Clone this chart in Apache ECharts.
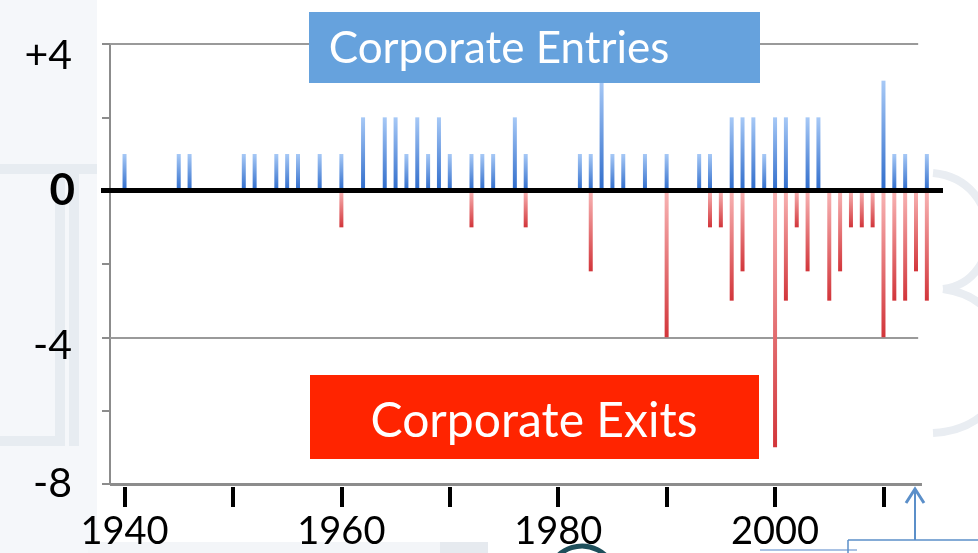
<!DOCTYPE html>
<html>
<head>
<meta charset="utf-8">
<script src="https://cdn.jsdelivr.net/npm/echarts@6/dist/echarts.min.js"></script>
<style>
html,body{margin:0;padding:0;background:#ffffff;}
#chart{width:978px;height:553px;}
</style>
</head>
<body>
<div id="chart"></div>
<script>
// ---- data ----
const entryYears  = [1940,1945,1946,1951,1952,1954,1955,1956,1958,1960,1962,1964,1965,1966,1967,1968,1969,1970,1972,1973,1974,1976,1977,1982,1983,1984,1985,1986,1988,1990,1993,1994,1996,1997,1998,1999,2000,2001,2003,2004,2010,2011,2012,2014];
const entryValues = [1,1,1,1,1,1,1,1,1,1,2,2,2,1,2,1,2,1,1,1,1,2,1,1,1,3,1,1,1,1,1,1,2,2,2,1,2,2,2,2,3,1,1,1];
const exitYears   = [1960,1972,1977,1983,1990,1994,1995,1996,1997,2000,2001,2002,2003,2005,2006,2007,2008,2009,2010,2011,2012,2013,2014];
const exitValues  = [-1,-1,-1,-2.2,-4,-1,-1,-3,-2.2,-7,-3,-1,-2.2,-3,-2.2,-1,-1,-1,-4,-3,-3,-2.2,-3];
const xTickYears  = [1940,1950,1960,1970,1980,1990,2000,2010];
const xLabelYears = [1940,1960,1980,2000];
const yLabels     = {'4':'+4','0':'0','-4':'-4','-8':'-8'};
const entriesTitle = 'Corporate Entries';
const exitsTitle   = 'Corporate Exits';

const chart = echarts.init(document.getElementById('chart'));
const LG = echarts.graphic.LinearGradient;

const axisStartX = 1938.66, gridEndX = 2013.2, bottomEndX = 2013.55;

const option = {
  backgroundColor: '#ffffff',
  animation: false,
  grid: {left: 101, right: 35, top: 44, bottom: 69},
  xAxis: {
    type: 'value', min: 1937.83, max: 2015.49, offset: 3,
    axisLine: {show: false, onZero: false},
    splitLine: {show: false},
    axisTick: {show: true, customValues: xTickYears, length: 20, lineStyle: {color: '#000', width: 4}},
    axisLabel: {customValues: xLabelYears, margin: 26, fontSize: 38, color: '#000', fontFamily: 'Lato',
      formatter: function (v) { return String(v); }}
  },
  yAxis: {
    type: 'value', min: -8, max: 4, interval: 2, offset: -9,
    axisLine: {show: true, lineStyle: {color: '#8c8c8c', width: 2}},
    axisTick: {show: true, length: 8, lineStyle: {color: '#8c8c8c', width: 2}},
    splitLine: {show: false},
    axisLabel: {
      margin: 35,
      formatter: function (v) {
        const t = yLabels[String(v)];
        if (t === undefined) return '';
        if (v === 4) return '{p|' + t + '}';
        if (v === 0) return '{z|' + t + '}';
        if (v === -4) return '{m|' + t + '}';
        return '{n|' + t + '}';
      },
      rich: {
        p: {fontSize: 41, color: '#000', fontFamily: 'Lato', padding: [24, 3, 0, 0]},
        z: {fontSize: 44, color: '#000', fontFamily: 'Lato', fontWeight: 'bold'},
        m: {fontSize: 41, color: '#000', fontFamily: 'Lato', padding: [16, 3, 0, 0]},
        n: {fontSize: 41, color: '#000', fontFamily: 'Lato', padding: [0, 3, 0, 0]}
      }
    }
  },
  series: [
    {
      type: 'bar', name: 'Entries', barWidth: 4, barGap: '-100%', z: 3,
      data: entryYears.map((y, i) => [y, entryValues[i]]),
      itemStyle: {color: new LG(0, 0, 0, 1, [{offset: 0, color: '#a7c9f6'}, {offset: 1, color: '#2f6ccb'}])},
      markLine: {
        silent: true, symbol: 'none', label: {show: false}, z: 1,
        data: [
          [{coord: [axisStartX, 4], lineStyle: {color: '#9a9a9a', width: 2, type: 'solid'}}, {coord: [gridEndX, 4]}],
          [{coord: [axisStartX, -4], lineStyle: {color: '#9a9a9a', width: 2, type: 'solid'}}, {coord: [gridEndX, -4]}],
          [{coord: [axisStartX, -8], lineStyle: {color: '#8c8c8c', width: 3, type: 'solid'}}, {coord: [bottomEndX, -8]}]
        ]
      }
    },
    {
      type: 'bar', name: 'Exits', barWidth: 4, barGap: '-100%', z: 3,
      data: exitYears.map((y, i) => [y, exitValues[i]]),
      itemStyle: {color: new LG(0, 0, 0, 1, [{offset: 0, color: '#f8b4b4'}, {offset: 1, color: '#d2353a'}])},
      markLine: {
        silent: true, symbol: 'none', label: {show: false}, z: 10,
        data: [{yAxis: 0, lineStyle: {color: '#000', width: 5, type: 'solid'}}]
      }
    }
  ],
  graphic: [
    // background decorations
    {type: 'rect', z: -10, shape: {x: 0, y: 0, width: 97, height: 553}, style: {fill: '#f5f7fa'}},
    {type: 'rect', z: -9, shape: {x: 0, y: 164, width: 97, height: 10}, style: {fill: '#e7ecf1'}},
    {type: 'rect', z: -9, shape: {x: 55, y: 164, width: 10, height: 282}, style: {fill: '#e7ecf1'}},
    {type: 'rect', z: -9, shape: {x: 69, y: 164, width: 10, height: 282}, style: {fill: '#e7ecf1'}},
    {type: 'rect', z: -9, shape: {x: 0, y: 436, width: 65, height: 10}, style: {fill: '#e7ecf1'}},
    {type: 'rect', z: -10, shape: {x: 0, y: 505, width: 88, height: 48}, style: {fill: '#f5f7fa'}},
    {type: 'rect', z: -10, shape: {x: 88, y: 542, width: 400, height: 11}, style: {fill: '#f3f5f8'}},
    {type: 'rect', z: -9, shape: {x: 440, y: 542, width: 48, height: 11}, style: {fill: '#e6eaef'}},
    {type: 'bezierCurve', z: -9, shape: {x1: 933, y1: 173, cpx1: 1005, cpy1: 180, cpx2: 1005, cpy2: 282, x2: 943, y2: 289}, style: {stroke: '#e9edf2', lineWidth: 8, fill: 'none'}},
    {type: 'bezierCurve', z: -9, shape: {x1: 943, y1: 289, cpx1: 1030, cpy1: 300, cpx2: 1030, cpy2: 428, x2: 933, y2: 433}, style: {stroke: '#e9edf2', lineWidth: 8, fill: 'none'}},
    {type: 'arc', z: -8, shape: {cx: 582, cy: 580, r: 34, startAngle: Math.PI * 1.15, endAngle: Math.PI * 1.85}, style: {stroke: '#1e4f5b', lineWidth: 5, fill: 'none'}},
    {type: 'line', z: 20, shape: {x1: 760, y1: 550, x2: 857, y2: 550}, style: {stroke: '#a9c2e4', lineWidth: 2}},
    {type: 'line', z: 20, shape: {x1: 848, y1: 540, x2: 978, y2: 540}, style: {stroke: '#5b8fc9', lineWidth: 1.5}},
    {type: 'line', z: 20, shape: {x1: 848, y1: 540, x2: 848, y2: 553}, style: {stroke: '#5b8fc9', lineWidth: 1.5}},
    {type: 'line', z: 20, shape: {x1: 915, y1: 540, x2: 915, y2: 490}, style: {stroke: '#5b8fc9', lineWidth: 2}},
    {type: 'polyline', z: 20, shape: {points: [[906, 503], [915, 489], [924, 503]]}, style: {stroke: '#5b8fc9', lineWidth: 3, fill: 'none'}},
    // title boxes
    {type: 'rect', z: 50, shape: {x: 309, y: 12, width: 451, height: 71}, style: {fill: '#66a2dd'}},
    {type: 'text', z: 51, x: 499, y: 49, style: {text: entriesTitle, fill: '#ffffff', font: '44px Lato', textAlign: 'center', textVerticalAlign: 'middle'}},
    {type: 'rect', z: 50, shape: {x: 310, y: 375, width: 449, height: 84}, style: {fill: '#ff2400'}},
    {type: 'text', z: 51, x: 534, y: 422, style: {text: exitsTitle, fill: '#ffffff', font: '48px Lato', textAlign: 'center', textVerticalAlign: 'middle'}}
  ]
};
chart.setOption(option);
</script>
</body>
</html>
